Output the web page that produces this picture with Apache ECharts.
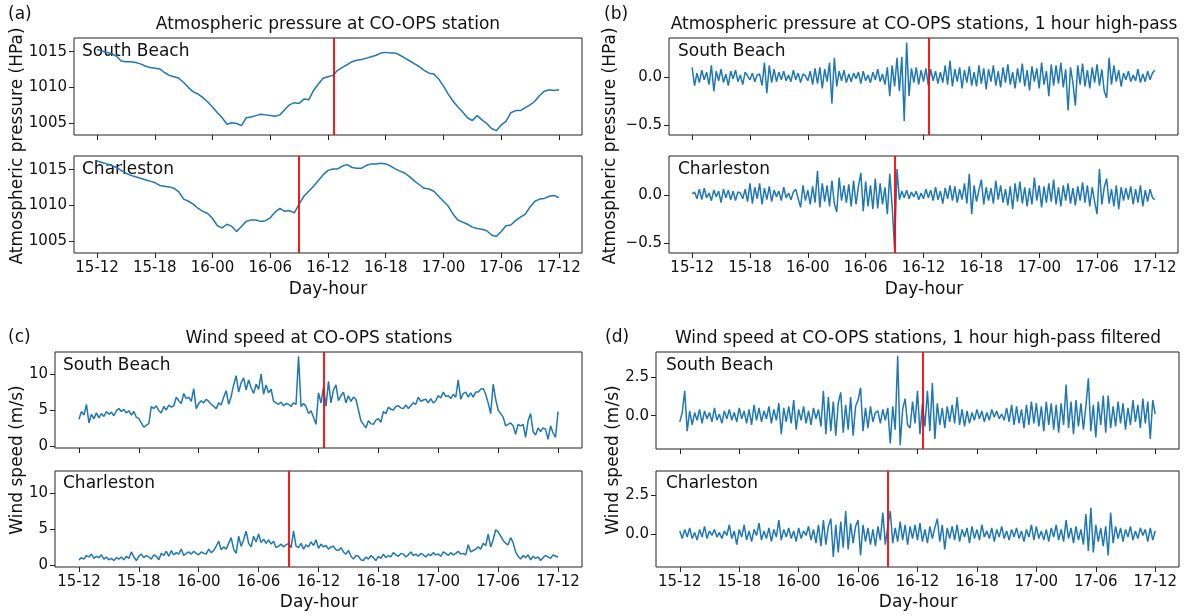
<!DOCTYPE html>
<html>
<head>
<meta charset="utf-8">
<script src="https://cdn.jsdelivr.net/npm/echarts@6/dist/echarts.min.js"></script>
<style>html,body{margin:0;padding:0;background:#fff;}#c{width:1190px;height:616px;}</style>
</head>
<body>
<div id="c"></div>
<script>
// ---- Data (hours since day 15, 12:00) ----
const tickHours = [0, 6, 12, 18, 24, 30, 36, 42, 48];
const tickLabels = ['15-12', '15-18', '16-00', '16-06', '16-12', '16-18', '17-00', '17-06', '17-12'];
const eventSouthBeach = 24.55;
const eventCharleston = 21.0;

// (a) pressure, 30-min samples
const presSouthBeach = [
1015.3,1015.1,1014.9,1014.7,1014.4,1013.7,1013.6,1013.6,1013.5,1013.3,1013.0,1012.8,1012.7,1012.6,1012.1,1011.7,
1011.5,1011.3,1010.7,1010.0,1009.4,1009.1,1008.6,1008.0,1007.3,1006.5,1005.8,1004.9,1005.1,1005.0,1004.7,1005.8,
1005.9,1006.1,1006.3,1006.2,1006.1,1006.0,1006.2,1006.9,1007.6,1007.9,1007.8,1008.4,1008.3,1009.6,1010.5,1011.3,
1011.5,1011.7,1012.4,1012.8,1013.2,1013.6,1013.8,1013.9,1014.1,1014.3,1014.5,1014.8,1014.9,1014.8,1014.8,1014.5,
1014.1,1013.7,1013.3,1012.9,1012.4,1012.0,1011.9,1011.2,1010.2,1009.1,1008.1,1007.3,1006.6,1005.8,1005.4,1006.1,
1005.5,1005.0,1004.3,1004.0,1004.8,1005.3,1006.5,1006.8,1006.8,1007.2,1007.6,1008.1,1008.9,1009.5,1009.7,1009.6,1009.7];
const presCharleston = [
1016.2,1016.0,1015.8,1015.6,1015.3,1014.9,1014.5,1014.2,1014.0,1013.8,1013.6,1013.4,1013.2,1012.8,1012.7,1012.6,
1012.4,1011.9,1010.9,1010.6,1010.2,1009.6,1009.2,1008.9,1008.2,1007.2,1006.9,1007.4,1007.1,1006.4,1007.1,1007.8,
1008.0,1008.0,1007.8,1007.9,1008.3,1009.1,1009.6,1009.2,1009.3,1009.0,1010.2,1011.3,1012.0,1012.7,1013.5,1014.3,
1014.9,1015.1,1015.1,1015.5,1015.7,1015.3,1015.2,1015.2,1015.6,1015.8,1015.8,1015.9,1015.8,1015.5,1015.1,1014.8,
1014.5,1014.0,1013.4,1012.9,1012.4,1012.3,1012.0,1011.3,1010.6,1009.9,1008.8,1008.0,1007.7,1007.4,1007.0,1006.8,
1006.7,1006.5,1005.9,1005.7,1006.4,1007.2,1007.3,1007.9,1008.4,1008.8,1009.8,1010.6,1010.9,1011.0,1011.3,1011.4,1011.1];

// (b) pressure, 1 hour high-pass, 15-min samples
const hpPresSouthBeach = [
0.10,-0.09,0.04,-0.06, 0.07,-0.03,0.05,-0.08, 0.12,-0.15,0.06,-0.04, 0.08,-0.06,0.03,-0.09,
0.06,-0.02,0.07,-0.05, 0.02,-0.08,0.05,0.01, -0.03,0.04,-0.05,0.02, 0.03,-0.09,0.15,-0.17,
0.12,-0.06,0.08,-0.05, 0.05,-0.03,0.06,-0.04, 0.02,-0.05,0.07,-0.03, 0.04,-0.06,0.03,0.01,
-0.04,0.06,-0.08,0.09, -0.07,0.10,-0.12,0.08, -0.05,0.15,-0.28,0.20, -0.10,0.06,-0.04,0.07,
-0.06,0.03,-0.05,0.04, -0.02,0.05,-0.07,0.06, -0.04,0.02,-0.06,0.05, -0.03,0.08,-0.05,0.03,
-0.08,0.10,-0.20,0.12, -0.10,0.20,-0.15,0.21, -0.46,0.36,-0.20,0.09, -0.06,0.10,-0.08,0.07,
-0.05,0.09,-0.09,0.08, -0.04,0.06,-0.07,0.05, -0.06,0.12,-0.08,0.17, -0.10,0.08,-0.05,0.10,
-0.12,0.07,-0.06,0.11, -0.09,0.05,-0.10,0.12, -0.07,0.09,-0.13,0.08, -0.05,0.12,-0.09,0.06,
-0.11,0.10,-0.06,0.13, -0.08,0.05,-0.12,0.09, -0.06,0.14,-0.10,0.07, -0.14,0.11,-0.05,0.09,
-0.12,0.15,-0.08,0.06, -0.20,0.13,-0.09,0.12, -0.07,0.15,-0.11,0.08, -0.35,0.10,-0.06,-0.30,
0.12,-0.08,0.14,-0.10, 0.07,-0.12,0.10,-0.06, 0.13,-0.09,0.08,-0.15, -0.22,0.20,-0.08,0.12,
-0.05,0.07,-0.10,0.04, -0.03,0.06,-0.05,0.02, -0.04,0.08,-0.06,0.03, -0.05,0.06,-0.03,0.04, 0.07];
const hpPresCharleston = [
0.01,0.03,-0.04,0.06, -0.05,0.07,-0.03,0.02, -0.06,0.05,-0.02,0.04, -0.08,0.06,-0.03,0.05,
-0.05,0.04,-0.06,0.03, 0.02,-0.04,0.06,-0.07, 0.12,-0.09,0.08,-0.04, 0.12,-0.10,0.07,-0.05,
0.09,-0.07,0.05,-0.02, 0.04,-0.06,0.08,-0.03, 0.02,-0.05,0.03,0.06, -0.04,-0.13,0.10,-0.06,
0.05,-0.10,0.09,-0.08, 0.25,-0.13,0.12,-0.07, 0.10,-0.12,0.15,-0.09, -0.18,0.18,-0.06,0.10,
-0.08,0.11,-0.12,0.15, -0.10,0.09,0.23,-0.17, 0.14,-0.12,0.10,-0.15, 0.17,-0.14,0.12,-0.10,
0.08,-0.20,0.22,-0.12, -0.56,0.27,-0.05,0.04, -0.03,0.05,-0.04,0.03, -0.02,0.04,-0.05,0.02,
-0.04,0.06,-0.03,0.05, -0.06,0.08,-0.05,0.04, -0.09,0.07,-0.04,0.10, -0.06,0.09,-0.08,0.06,
-0.05,0.12,-0.09,0.22, -0.20,0.10,-0.07,0.05, 0.16,-0.10,0.08,-0.06, 0.07,-0.09,0.15,-0.05,
0.10,-0.08,0.06,-0.11, 0.09,-0.15,0.12,-0.07, 0.14,-0.09,0.08,-0.12, 0.07,-0.10,0.18,-0.06,
0.10,-0.13,0.09,-0.08, 0.12,-0.07,0.16,-0.10, 0.08,-0.12,0.10,-0.06, 0.12,-0.09,0.07,-0.11,
0.09,-0.06,0.13,-0.08, 0.10,-0.12,0.08,-0.07, -0.20,0.27,-0.10,0.08, 0.17,-0.09,0.06,-0.12,
0.10,-0.15,0.08,-0.06, 0.07,-0.05,0.09,-0.10, 0.06,-0.08,0.10,-0.12, 0.05,-0.07,0.06,-0.03, -0.05];

// (c) wind speed, 15-min samples
const windSouthBeach = [
3.7,4.8,4.3,5.8, 3.2,4.4,3.8,4.6, 3.9,4.5,4.1,4.8, 4.4,4.7,4.2,4.9, 5.2,4.8,5.1,4.6, 4.9,4.3,4.8,4.0,
3.8,3.2,2.6,2.9, 3.1,5.5,5.2,5.6, 4.9,4.6,5.5,5.0, 5.7,5.4,5.6,6.8, 6.3,5.9,7.3,6.6, 6.8,6.2,8.0,5.2,
5.9,6.3,6.0,6.5, 6.2,5.8,5.5,5.2, 6.0,5.7,6.8,7.7, 5.8,6.9,8.5,9.8, 7.5,8.8,9.5,7.8, 9.2,8.1,7.3,8.6,
7.9,10.0,7.2,8.5, 7.4,7.9,6.2,6.0, 5.8,6.1,5.6,5.9, 5.8,5.5,6.0,5.8, 12.5,5.5,5.9,5.5, 4.5,4.9,4.0,3.0,
7.4,6.0,8.2,5.5, 9.0,6.0,7.8,8.5, 6.3,7.0,7.5,6.0, 7.0,6.2,6.8,6.5, 5.0,3.5,3.0,2.5, 3.5,3.1,3.0,3.6,
3.8,3.3,4.8,4.5, 5.4,5.1,5.0,5.5, 5.6,5.3,5.2,5.7, 5.2,5.6,6.0,5.8, 6.8,6.2,6.4,6.5, 6.0,6.6,6.0,6.3,
7.0,6.7,7.5,6.9, 7.0,6.6,7.2,6.8, 9.2,6.5,7.3,7.5, 6.8,7.4,6.8,7.5, 7.5,7.9,8.0,7.2, 6.0,4.5,8.6,6.5,
5.0,4.5,4.0,2.8, 3.0,3.2,2.8,1.6, 3.0,2.8,3.0,1.2, 3.5,4.5,2.0,1.5, 2.5,2.0,2.5,2.3, 0.9,2.8,1.8,1.2, 4.8];
const windCharleston = [
0.7,1.0,0.8,1.3, 1.1,1.5,0.9,1.2, 1.0,1.4,0.8,1.1, 0.7,0.9,0.6,1.0, 0.8,1.1,0.7,1.2, 0.9,1.8,1.1,0.6,
1.2,1.5,1.0,1.3, 1.1,0.8,1.4,1.2, 0.7,1.6,1.3,1.9, 1.2,2.0,1.4,1.7, 1.5,2.2,1.3,1.6, 1.8,1.5,1.9,1.6,
1.4,1.8,1.6,1.5, 2.2,1.7,2.0,2.6, 3.3,2.1,2.5,2.2, 3.0,3.8,2.2,1.6, 4.0,2.6,3.5,4.7, 3.0,2.5,4.0,3.2,
4.3,3.1,3.6,3.0, 3.5,2.9,3.3,2.4, 2.6,2.9,2.5,2.8, 3.0,2.4,4.7,2.6, 2.4,3.0,2.2,2.8, 2.5,3.2,2.7,3.5,
2.3,2.9,2.5,2.7, 2.2,2.5,2.6,2.1, 2.0,2.4,1.8,1.5, 2.0,1.2,0.8,1.3, 1.2,0.7,0.6,1.1, 0.8,1.3,1.0,0.6,
1.2,0.9,1.5,1.0, 1.3,1.1,1.7,1.4, 1.2,1.6,1.5,1.1, 1.4,1.8,1.3,1.5, 1.2,1.6,1.4,1.1, 1.5,1.3,1.7,1.4,
1.5,1.2,1.8,1.6, 1.3,1.7,1.4,1.6, 1.9,1.5,1.6,1.4, 2.8,1.8,2.0,2.2, 2.5,2.2,3.0,2.7, 4.3,2.5,3.5,4.9,
4.6,4.0,3.4,3.0, 2.8,3.8,3.1,1.8, 1.2,0.8,1.3,1.0, 1.4,0.7,1.2,0.9, 1.1,0.6,1.0,1.3, 1.1,0.9,1.4,1.2, 1.1];

// (d) wind speed, 1 hour high-pass, 15-min samples
const hpWindSouthBeach = [
-0.4,0.2,1.6,-1.0, 0.3,-0.6,0.2,-0.3, 0.4,-0.5,0.3,-0.2, 0.2,-0.4,0.5,-0.3, 0.1,-0.5,0.3,-0.2, 0.4,-0.3,0.2,-0.4,
0.5,-0.2,0.3,-0.5, 0.4,-0.6,0.7,-0.3, 0.5,-0.4,0.3,-0.2, 0.6,-0.5,0.4,-0.3, 0.8,-1.2,0.5,-0.4, 0.6,-0.5,1.0,-0.9,
0.4,-0.3,0.6,-0.5, 0.3,-0.6,0.5,-0.2, 0.4,-0.7,1.6,-1.2, 1.2,-1.0,0.9,-1.3, 0.8,1.5,-1.1,0.7, -0.9,1.2,-1.3,0.6,
1.0,1.8,-1.0,0.5, -0.8,0.6,-0.4,0.2, 0.3,-0.5,0.4,-0.3, 0.5,-1.8,0.6,-0.9, 3.85,-1.9,0.4,1.1, -0.6,-0.8,0.9,-0.5,
1.6,-1.2,0.8,-0.7, 1.6,-1.0,2.1,-1.5, 0.8,-0.6,0.5,-0.8, 0.6,-0.4,0.7,-0.5, 1.2,-0.6,0.4,-0.7, 0.3,-0.5,0.2,-0.3,
0.4,-0.2,0.3,-0.4, 0.2,-0.3,0.4,-0.1, 0.3,-0.2,0.1,-0.3, 0.5,-0.4,0.7,-0.6, 0.6,-0.5,0.4,-0.8, 0.7,-0.6,0.9,-0.5,
0.8,-0.7,0.6,-1.0, 0.9,-0.6,0.8,-0.9, 0.7,-1.1,0.8,-0.6, 2.0,-0.8,0.9,-1.2, 1.0,-0.7,0.8,-0.9, 0.6,2.4,-1.0,0.7,
-1.4,0.9,-0.6,1.3, -1.1,1.3,-0.8,0.6, -0.7,0.9,-0.5,0.8, -0.9,0.5,-0.6,1.0, -0.4,0.7,-0.8,1.1, -0.5,0.9,-1.5,1.0, 0.1];
const hpWindCharleston = [
0.2,-0.3,0.3,-0.2, 0.4,-0.3,0.1,-0.4, 0.3,-0.2,0.5,-0.3, 0.2,-0.1,0.3,-0.2, 0.1,-0.3,0.2,-0.1, 0.6,-0.3,0.2,-0.7,
0.3,-0.2,0.6,-0.4, 0.2,-0.5,0.3,-0.1, 0.7,-0.4,0.2,-0.3, 0.4,-0.5,0.3,-0.2, 0.9,-0.4,0.3,-0.2, 0.4,-0.3,0.2,-0.5,
0.4,-0.3,0.2,-0.1, 0.5,-0.4,0.3,-0.6, 0.6,-0.8,0.9,-0.7, 0.5,1.0,-1.5,0.6, -1.2,0.8,-0.9,1.5, -1.0,0.7,-0.6,0.5,
0.9,-1.4,0.6,-0.5, 0.4,-0.7,0.3,-0.8, 0.5,-0.4,1.4,-0.7, 0.5,1.5,-0.6,0.4, -0.5,0.8,-0.4,0.6, -0.7,0.5,-0.3,0.6,
-0.4,0.7,-0.5,0.3, -0.6,0.5,-0.3,0.4, 1.0,-0.5,0.6,-1.0, 0.4,-0.3,0.5,-0.4, 0.6,-0.5,0.3,-0.2, 0.4,-0.6,0.5,-0.3,
0.3,-0.4,0.6,-0.2, 0.2,-0.3,0.4,-0.5, 0.3,-0.2,0.5,-0.3, 0.2,-0.4,0.3,-0.2, 0.4,-0.3,0.2,-0.5, 0.3,-0.2,0.6,-0.4,
0.5,-0.3,0.2,-0.4, 0.3,-0.5,0.4,-0.2, 0.6,-0.4,0.3,-0.5, 0.9,-0.3,0.4,-0.6, 0.5,-0.4,0.3,-0.7, 1.3,-1.1,1.7,-1.2,
0.6,-0.5,0.4,-0.8, 0.5,-1.4,1.4,-0.6, 0.5,-0.3,0.4,-0.5, 0.3,-0.2,0.5,-0.4, 0.2,-0.3,0.4,-0.1, 0.3,-0.5,0.4,-0.4, 0.2];

// ---- Build chart ----
const FONT = 'DejaVu Sans';
function pairs(arr, step) { return arr.map((v, i) => [i * step, v]); }
const minusFmt = v => (v < 0 ? '\u2212' : '') + Math.abs(v).toFixed(1);

const panels = [
  { rect: [74, 38, 508, 97],  y: [1003.4, 1016.9], yt: [1005, 1010, 1015], d: presSouthBeach, s: 0.5, ev: eventSouthBeach, fmt: v => String(v), bottom: false },
  { rect: [74, 156, 508, 97], y: [1003.4, 1016.9], yt: [1005, 1010, 1015], d: presCharleston, s: 0.5, ev: eventCharleston, fmt: v => String(v), bottom: true },
  { rect: [669, 38, 509, 97],  y: [-0.606, 0.406], yt: [-0.5, 0], d: hpPresSouthBeach, s: 0.25, ev: eventSouthBeach, fmt: minusFmt, bottom: false },
  { rect: [669, 156, 509, 97], y: [-0.606, 0.406], yt: [-0.5, 0], d: hpPresCharleston, s: 0.25, ev: eventCharleston, fmt: minusFmt, bottom: true },
  { rect: [55, 352, 527, 96],  y: [-0.3, 13.1], yt: [0, 5, 10], d: windSouthBeach, s: 0.25, ev: eventSouthBeach, fmt: v => String(v), bottom: false },
  { rect: [55, 471, 527, 96],  y: [-0.3, 13.1], yt: [0, 5, 10], d: windCharleston, s: 0.25, ev: eventCharleston, fmt: v => String(v), bottom: true },
  { rect: [656, 352, 523, 97], y: [-2.15, 4.1], yt: [0, 2.5], d: hpWindSouthBeach, s: 0.25, ev: eventSouthBeach, fmt: minusFmt, bottom: false },
  { rect: [656, 471, 523, 96], y: [-2.15, 4.1], yt: [0, 2.5], d: hpWindCharleston, s: 0.25, ev: eventCharleston, fmt: minusFmt, bottom: true }
];

const grid = [], xAxis = [], yAxis = [], series = [];
panels.forEach((p, i) => {
  grid.push({ left: p.rect[0], top: p.rect[1], width: p.rect[2], height: p.rect[3], show: true, borderColor: '#222', borderWidth: 1, backgroundColor: 'transparent', containLabel: false });
  xAxis.push({
    type: 'value', gridIndex: i, min: -2.4, max: 50.4, position: 'bottom',
    axisLine: { show: false, onZero: false }, splitLine: { show: false },
    axisTick: { show: true, inside: false, length: 5, lineStyle: { color: '#222', width: 1 }, customValues: tickHours },
    axisLabel: { show: p.bottom, margin: 8, color: '#111', fontFamily: FONT, fontSize: 15, customValues: tickHours,
      formatter: v => tickLabels[tickHours.indexOf(v)] || '' }
  });
  yAxis.push({
    type: 'value', gridIndex: i, min: p.y[0], max: p.y[1], position: 'left',
    axisLine: { show: false, onZero: false }, splitLine: { show: false },
    axisTick: { show: true, inside: false, length: 5, lineStyle: { color: '#222', width: 1 }, customValues: p.yt },
    axisLabel: { show: true, margin: 7, color: '#111', fontFamily: FONT, fontSize: 15, customValues: p.yt, formatter: p.fmt }
  });
  series.push({
    type: 'line', xAxisIndex: i, yAxisIndex: i, data: pairs(p.d, p.s),
    showSymbol: false, symbol: 'none', lineStyle: { color: '#1f77b4', width: 1.5 }, z: 2,
    markLine: { silent: true, symbol: ['none', 'none'], label: { show: false },
      lineStyle: { color: '#ff0000', width: 1.8, type: 'solid' }, data: [{ xAxis: p.ev }], z: 3 }
  });
});

function txt(text, x, y, size, align, rot) {
  return { type: 'text', x: x, y: y, rotation: rot || 0, silent: true,
    style: { text: text, fill: '#111', font: size + 'px "' + FONT + '"', align: align || 'left', verticalAlign: 'middle' } };
}

const graphic = [
  txt('(a)', 8, 15, 17), txt('(b)', 604, 15, 17), txt('(c)', 8, 338, 17), txt('(d)', 605, 338, 17),
  txt('Atmospheric pressure at CO-OPS station', 328, 25, 17, 'center'),
  txt('Atmospheric pressure at CO-OPS stations, 1 hour high-pass', 924, 25, 17, 'center'),
  txt('Wind speed at CO-OPS stations', 319, 339, 17, 'center'),
  txt('Wind speed at CO-OPS stations, 1 hour high-pass filtered', 918, 339, 17, 'center'),
  txt('South Beach', 82, 52, 17), txt('Charleston', 82, 170, 17),
  txt('South Beach', 678, 52, 17), txt('Charleston', 678, 170, 17),
  txt('South Beach', 63, 366, 17), txt('Charleston', 63, 484, 17),
  txt('South Beach', 666, 366, 17), txt('Charleston', 666, 484, 17),
  txt('Day-hour', 328, 290, 17, 'center'), txt('Day-hour', 924, 290, 17, 'center'),
  txt('Day-hour', 319, 603, 17, 'center'), txt('Day-hour', 918, 603, 17, 'center'),
  txt('Atmospheric pressure (HPa)', 18, 146, 17, 'center', Math.PI / 2),
  txt('Atmospheric pressure (HPa)', 611, 146, 17, 'center', Math.PI / 2),
  txt('Wind speed (m/s)', 18, 460, 17, 'center', Math.PI / 2),
  txt('Wind speed (m/s)', 614, 460, 17, 'center', Math.PI / 2)
];

const chart = echarts.init(document.getElementById('c'), null, { renderer: 'canvas' });
chart.setOption({ animation: false, backgroundColor: '#fff', grid, xAxis, yAxis, series, graphic });
</script>
</body>
</html>
